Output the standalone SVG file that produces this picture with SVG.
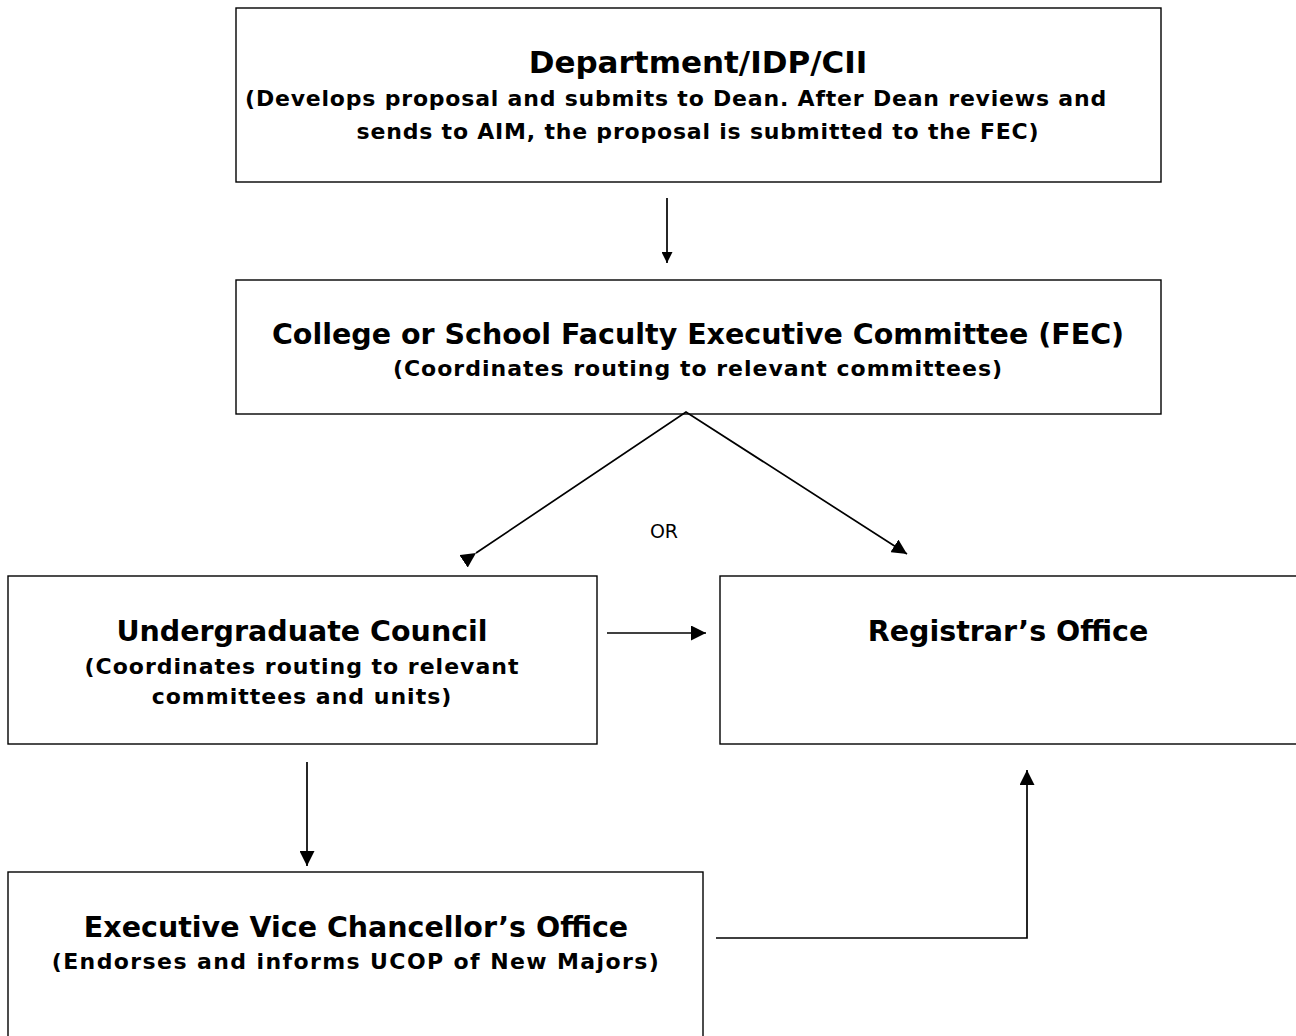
<svg xmlns="http://www.w3.org/2000/svg" width="1296" height="1036" viewBox="0 0 1296 1036">
<defs>
<style>
.box{fill:#fff;stroke:#000;stroke-width:1.4}
.t{font-family:"DejaVu Sans",Verdana,sans-serif;font-weight:bold;fill:#000;text-anchor:middle}
.h{font-size:28.5px}
.s{font-size:22px;letter-spacing:1px}
.c{stroke:#000;stroke-width:1.7;fill:none}
.or{font-family:"DejaVu Sans",Arial,sans-serif;font-size:19px;fill:#000;text-anchor:middle}
</style>
<marker id="ah" viewBox="0 0 10 10" refX="10" refY="5" markerWidth="11" markerHeight="11" markerUnits="userSpaceOnUse" orient="auto">
<path d="M0,0 L10,5 L0,10 Z" fill="#000"/>
</marker>
<marker id="ahb" viewBox="0 0 10 10" refX="10" refY="5" markerWidth="15" markerHeight="15" markerUnits="userSpaceOnUse" orient="auto">
<path d="M0,0 L10,5 L0,10 Z" fill="#000"/>
</marker>
</defs>
<rect width="1296" height="1036" fill="#fff"/>
<g id="dept">
<rect class="box" x="236" y="8" width="925" height="174"/>
<text class="t" x="698" y="73" style="font-size:31px">Department/IDP/CII</text>
<text class="t s" x="676" y="106" style="letter-spacing:0.8px">(Develops proposal and submits to Dean. After Dean reviews and</text>
<text class="t s" x="698" y="139" style="letter-spacing:0.8px">sends to AIM, the proposal is submitted to the FEC)</text>
</g>
<g id="fec">
<rect class="box" x="236" y="280" width="925" height="134"/>
<text class="t h" x="698" y="344">College or School Faculty Executive Committee (FEC)</text>
<text class="t s" x="698" y="376">(Coordinates routing to relevant committees)</text>
</g>
<g id="ugc">
<rect class="box" x="8" y="576" width="589" height="168"/>
<text class="t h" x="302" y="641">Undergraduate Council</text>
<text class="t s" x="302" y="674">(Coordinates routing to relevant</text>
<text class="t s" x="302" y="704">committees and units)</text>
</g>
<g id="reg">
<rect class="box" x="720" y="576" width="590" height="168"/>
<text class="t h" x="1008" y="641">Registrar’s Office</text>
</g>
<g id="evc">
<rect class="box" x="8" y="872" width="695" height="180"/>
<text class="t h" x="356" y="937">Executive Vice Chancellor’s Office</text>
<text class="t s" x="356" y="969" style="letter-spacing:1.4px">(Endorses and informs UCOP of New Majors)</text>
</g>
<g id="connectors">
<line class="c" x1="667" y1="198" x2="667" y2="263" marker-end="url(#ah)"/>
<polyline class="c" points="476,553 686,412 907,554" marker-start="url(#ahb)" marker-end="url(#ahb)"/>
<line class="c" x1="607" y1="633" x2="706" y2="633" marker-end="url(#ahb)"/>
<line class="c" x1="307" y1="762" x2="307" y2="866" marker-end="url(#ahb)"/>
<polyline class="c" points="716,938 1027,938 1027,770" marker-end="url(#ahb)"/>
<text class="or" x="664" y="538">OR</text>
</g>
</svg>
